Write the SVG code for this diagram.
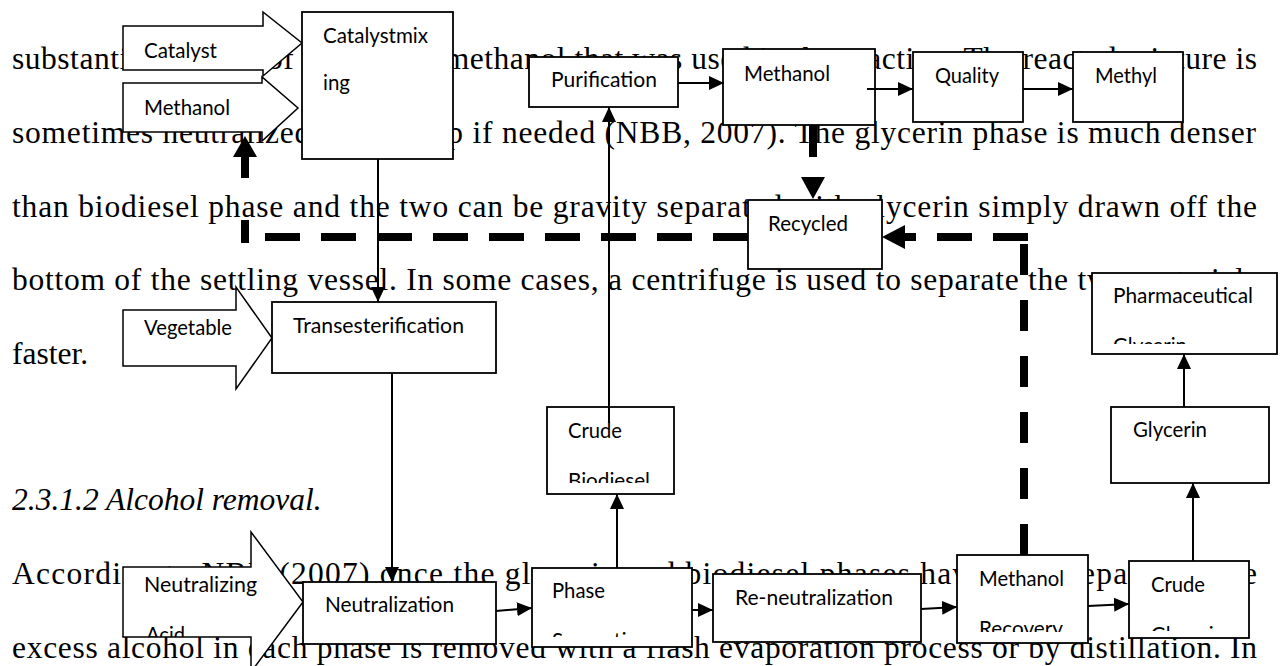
<svg xmlns="http://www.w3.org/2000/svg" width="1280" height="666" viewBox="0 0 1280 666">
<style>
.body{font-family:"Liberation Serif","Times New Roman",serif;font-size:31.5px;fill:#000}
.ital{font-style:italic}
.lbl{font-family:Lato,"Open Sans","Liberation Sans",sans-serif;font-size:21px;fill:#000}
.box{fill:#fff;stroke:#000;stroke-width:1.8}
.blk{fill:#fff;stroke:#000;stroke-width:1.5;stroke-linejoin:miter}
.thin{fill:none;stroke:#000;stroke-width:2}
.thick{fill:none;stroke:#000;stroke-width:8}
.head{fill:#000}
</style>
<defs>
<marker id="ah" viewBox="0 0 15 14" refX="15" refY="7" markerWidth="15" markerHeight="14" markerUnits="userSpaceOnUse" orient="auto">
<path d="M0,0 L15,7 L0,14 Z" fill="#000"/>
</marker>
<clipPath id="cPharma"><rect x="1092" y="273" width="185" height="71"/></clipPath>
<clipPath id="cCrudeB"><rect x="547" y="407" width="127" height="76"/></clipPath>
<clipPath id="cAcid"><rect x="123" y="567" width="128" height="70"/></clipPath>
<clipPath id="cPhase"><rect x="532" y="568" width="160" height="69"/></clipPath>
<clipPath id="cMR"><rect x="957" y="555" width="131" height="77"/></clipPath>
<clipPath id="cCG"><rect x="1129" y="561" width="120" height="70"/></clipPath>
</defs>
<rect x="0" y="0" width="1280" height="666" fill="#fff"/>
<g id="page-text">
<text class="body" x="12" y="69" textLength="1245" lengthAdjust="spacing">substantial amount of the excess methanol that was used in the reaction. The reacted mixture is</text>
<text class="body" x="12" y="143" textLength="1244" lengthAdjust="spacing">sometimes neutralized at this step if needed (NBB, 2007). The glycerin phase is much denser</text>
<text class="body" x="12" y="217" textLength="1245" lengthAdjust="spacing">than biodiesel phase and the two can be gravity separated with glycerin simply drawn off the</text>
<text class="body" x="12" y="290" textLength="1245" lengthAdjust="spacing">bottom of the settling vessel. In some cases, a centrifuge is used to separate the two materials</text>
<text class="body" x="12" y="364">faster.</text>
<text class="body ital" x="12" y="510">2.3.1.2 Alcohol removal.</text>
<text class="body" x="12" y="584" textLength="1245" lengthAdjust="spacing">According to NBB (2007) once the glycerin and biodiesel phases have been separated, the</text>
<text class="body" x="12" y="658" textLength="1245" lengthAdjust="spacing">excess alcohol in each phase is removed with a flash evaporation process or by distillation. In</text>
</g>
<g id="catalyst">
<path class="blk" d="M123,26 L263,26 L263,12 L302,43 L263,76 L263,70 L123,70 Z"/>
<text class="lbl" x="144" y="58" textLength="73" lengthAdjust="spacingAndGlyphs">Catalyst</text>
</g>
<g id="methanol-in">
<path class="blk" d="M123,83 L262,83 L262,77 L298,108 L262,141 L262,132 L123,132 Z"/>
<text class="lbl" x="144" y="115" textLength="86" lengthAdjust="spacingAndGlyphs">Methanol</text>
</g>
<g id="catalyst-mixing">
<rect class="box" x="302" y="12" width="151" height="147"/>
<text class="lbl" x="323" y="43" textLength="105" lengthAdjust="spacingAndGlyphs">Catalystmix</text>
<text class="lbl" x="323" y="90" textLength="27" lengthAdjust="spacingAndGlyphs">ing</text>
</g>
<g id="purification">
<rect class="box" x="529" y="57" width="149" height="50"/>
<text class="lbl" x="551" y="87" textLength="106" lengthAdjust="spacingAndGlyphs">Purification</text>
</g>
<g id="methanol">
<rect class="box" x="723" y="49" width="152" height="76"/>
<text class="lbl" x="744" y="81" textLength="86" lengthAdjust="spacingAndGlyphs">Methanol</text>
</g>
<g id="quality">
<rect class="box" x="913" y="52" width="110" height="70"/>
<text class="lbl" x="935" y="83" textLength="64" lengthAdjust="spacingAndGlyphs">Quality</text>
</g>
<g id="methyl">
<rect class="box" x="1073" y="52" width="110" height="70"/>
<text class="lbl" x="1095" y="83" textLength="62" lengthAdjust="spacingAndGlyphs">Methyl</text>
</g>
<g id="recycled">
<rect class="box" x="748" y="200" width="134" height="69"/>
<text class="lbl" x="768" y="231" textLength="80" lengthAdjust="spacingAndGlyphs">Recycled</text>
</g>
<g id="vegetable">
<path class="blk" d="M123,310 L236,310 L236,287 L272,338 L236,389 L236,366 L123,366 Z"/>
<text class="lbl" x="144" y="335" textLength="88" lengthAdjust="spacingAndGlyphs">Vegetable</text>
</g>
<g id="transesterification">
<rect class="box" x="272" y="302" width="224" height="71"/>
<text class="lbl" x="293" y="333" textLength="171" lengthAdjust="spacingAndGlyphs">Transesterification</text>
</g>
<g id="pharmaceutical-glycerin">
<rect class="box" x="1092" y="273" width="185" height="81"/>
<text class="lbl" x="1113" y="303" textLength="140" lengthAdjust="spacingAndGlyphs">Pharmaceutical</text>
<text class="lbl" x="1113" y="353" textLength="74" lengthAdjust="spacingAndGlyphs" clip-path="url(#cPharma)">Glycerin</text>
</g>
<g id="glycerin">
<rect class="box" x="1111" y="407" width="158" height="76"/>
<text class="lbl" x="1133" y="437" textLength="74" lengthAdjust="spacingAndGlyphs">Glycerin</text>
</g>
<g id="crude-biodiesel">
<rect class="box" x="547" y="407" width="127" height="87"/>
<text class="lbl" x="568" y="438" textLength="54" lengthAdjust="spacingAndGlyphs">Crude</text>
<text class="lbl" x="568" y="488" textLength="82" lengthAdjust="spacingAndGlyphs" clip-path="url(#cCrudeB)">Biodiesel</text>
</g>
<g id="neutralizing-acid">
<path class="blk" d="M123,567 L251,567 L251,532 L303,602 L251,672 L251,637 L123,637 Z"/>
<text class="lbl" x="144" y="592" textLength="113" lengthAdjust="spacingAndGlyphs">Neutralizing</text>
<text class="lbl" x="146" y="642" textLength="39" lengthAdjust="spacingAndGlyphs" clip-path="url(#cAcid)">Acid</text>
</g>
<g id="neutralization">
<rect class="box" x="303" y="582" width="193" height="62"/>
<text class="lbl" x="325" y="612" textLength="129" lengthAdjust="spacingAndGlyphs">Neutralization</text>
</g>
<g id="phase-separation">
<rect class="box" x="532" y="568" width="160" height="79"/>
<text class="lbl" x="552" y="598" textLength="53" lengthAdjust="spacingAndGlyphs">Phase</text>
<text class="lbl" x="552" y="648" textLength="98" lengthAdjust="spacingAndGlyphs" clip-path="url(#cPhase)">Separation</text>
</g>
<g id="re-neutralization">
<rect class="box" x="713" y="574" width="208" height="68"/>
<text class="lbl" x="735" y="605" textLength="158" lengthAdjust="spacingAndGlyphs">Re-neutralization</text>
</g>
<g id="methanol-recovery">
<rect class="box" x="957" y="555" width="131" height="88"/>
<text class="lbl" x="979" y="586" textLength="85" lengthAdjust="spacingAndGlyphs">Methanol</text>
<text class="lbl" x="979" y="636" textLength="84" lengthAdjust="spacingAndGlyphs" clip-path="url(#cMR)">Recovery</text>
</g>
<g id="crude-glycerin">
<rect class="box" x="1129" y="561" width="120" height="77"/>
<text class="lbl" x="1151" y="592" textLength="54" lengthAdjust="spacingAndGlyphs">Crude</text>
<text class="lbl" x="1151" y="642" textLength="74" lengthAdjust="spacingAndGlyphs" clip-path="url(#cCG)">Glycerin</text>
</g>
<g id="connectors">
<line class="thin" x1="378" y1="159" x2="378" y2="302" marker-end="url(#ah)"/>
<line class="thin" x1="392" y1="373" x2="392" y2="582" marker-end="url(#ah)"/>
<line class="thin" x1="496" y1="611" x2="532" y2="608" marker-end="url(#ah)"/>
<line class="thin" x1="617" y1="568" x2="617" y2="494" marker-end="url(#ah)"/>
<line class="thin" x1="609" y1="423" x2="609" y2="107" marker-end="url(#ah)"/>
<line class="thin" x1="678" y1="83" x2="724" y2="83" marker-end="url(#ah)"/>
<line class="thin" x1="867" y1="89" x2="913" y2="89" marker-end="url(#ah)"/>
<line class="thin" x1="1023" y1="89" x2="1073" y2="89" marker-end="url(#ah)"/>
<line class="thin" x1="692" y1="610" x2="713" y2="610" marker-end="url(#ah)"/>
<line class="thin" x1="921" y1="609" x2="957" y2="607" marker-end="url(#ah)"/>
<line class="thin" x1="1088" y1="606" x2="1129" y2="604" marker-end="url(#ah)"/>
<line class="thin" x1="1193" y1="561" x2="1193" y2="483" marker-end="url(#ah)"/>
<line class="thin" x1="1184" y1="407" x2="1184" y2="354" marker-end="url(#ah)"/>
<line class="thick" x1="813" y1="125" x2="813" y2="157"/>
<path class="head" d="M801,177 L825,177 L813,199 Z"/>
<path class="thick" d="M1024,555 L1024,243" stroke-dasharray="31 25"/>
<path class="thick" d="M1028,237 L905,237" stroke-dasharray="35 21"/>
<path class="head" d="M905,225 L905,249 L882,237 Z"/>
<path class="thick" d="M748,237 L245,237" stroke-dasharray="35 21"/>
<line class="thick" x1="245" y1="243" x2="245" y2="220"/>
<line class="thick" x1="245" y1="178" x2="245" y2="157"/>
<path class="head" d="M233,157 L257,157 L245,136 Z"/>
</g>
</svg>
